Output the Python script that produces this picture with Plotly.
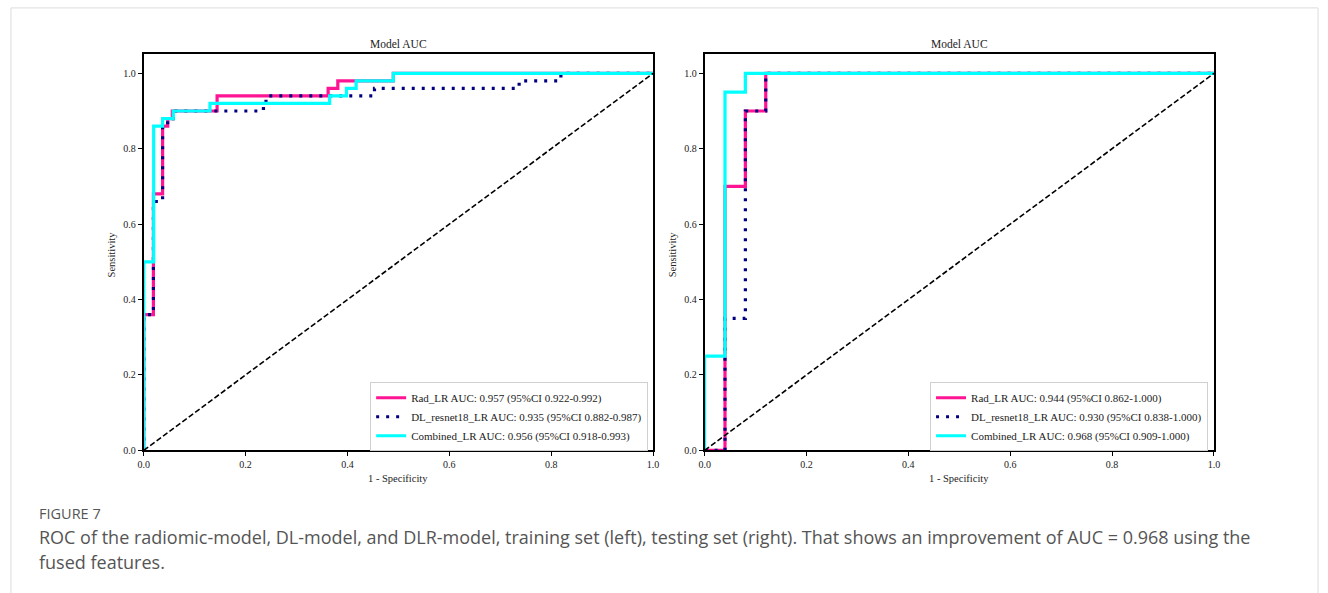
import plotly.graph_objects as go

# ---------------- data (ROC step vertices) ----------------
# Training set (left)
train_rad_fpr = [0, 0, 0.019, 0.019, 0.037, 0.037, 0.047, 0.047, 0.056, 0.056, 0.144, 0.144,
                 0.362, 0.362, 0.381, 0.381, 0.49, 0.49, 1.0]
train_rad_tpr = [0, 0.36, 0.36, 0.68, 0.68, 0.86, 0.86, 0.88, 0.88, 0.90, 0.90, 0.94,
                 0.94, 0.96, 0.96, 0.98, 0.98, 1.0, 1.0]
train_dl_fpr = [0, 0, 0.019, 0.019, 0.037, 0.037, 0.047, 0.047, 0.058, 0.058, 0.235, 0.235,
                0.24, 0.24, 0.453, 0.453, 0.737, 0.737, 0.819, 0.819, 1.0]
train_dl_tpr = [0, 0.36, 0.36, 0.66, 0.66, 0.86, 0.86, 0.88, 0.88, 0.90, 0.90, 0.92,
                0.92, 0.94, 0.94, 0.96, 0.96, 0.98, 0.98, 1.0, 1.0]
train_comb_fpr = [0, 0, 0.0195, 0.0195, 0.037, 0.037, 0.058, 0.058, 0.13, 0.13, 0.365, 0.365,
                  0.398, 0.398, 0.417, 0.417, 0.49, 0.49, 1.0]
train_comb_tpr = [0, 0.50, 0.50, 0.86, 0.86, 0.88, 0.88, 0.90, 0.90, 0.92, 0.92, 0.94,
                  0.94, 0.96, 0.96, 0.98, 0.98, 1.0, 1.0]

# Testing set (right)
test_rad_fpr = [0, 0.04, 0.04, 0.08, 0.08, 0.12, 0.12, 1.0]
test_rad_tpr = [0, 0, 0.70, 0.70, 0.90, 0.90, 1.0, 1.0]
test_dl_fpr = [0, 0.04, 0.04, 0.08, 0.08, 0.12, 0.12, 1.0]
test_dl_tpr = [0, 0, 0.35, 0.35, 0.90, 0.90, 1.0, 1.0]
test_comb_fpr = [0, 0, 0.04, 0.04, 0.08, 0.08, 1.0]
test_comb_tpr = [0, 0.25, 0.25, 0.95, 0.95, 1.0, 1.0]

train_labels = ["Rad_LR AUC: 0.957 (95%CI 0.922-0.992)",
                "DL_resnet18_LR AUC: 0.935 (95%CI 0.882-0.987)",
                "Combined_LR AUC: 0.956 (95%CI 0.918-0.993)"]
test_labels = ["Rad_LR AUC: 0.944 (95%CI 0.862-1.000)",
               "DL_resnet18_LR AUC: 0.930 (95%CI 0.838-1.000)",
               "Combined_LR AUC: 0.968 (95%CI 0.909-1.000)"]
diag = [0, 1]
tick_vals = [0, 0.2, 0.4, 0.6, 0.8, 1.0]

caption_head = "FIGURE 7"
caption_line1 = ("ROC of the radiomic-model, DL-model, and DLR-model, training set (left), testing set (right). "
                 "That shows an improvement of AUC = 0.968 using the")
caption_line2 = "fused features."

# ---------------- styling ----------------
W, H = 1328, 593
PINK, NAVY, CYAN = "#FF1493", "#000080", "#00FFFF"
SERIF = "Liberation Serif, Times New Roman, serif"
SANS = "Open Sans, Noto Sans, sans-serif"

def px_x(p):
    return p / W

def px_y(p):
    return 1 - p / H

fig = go.Figure()

def add_panel(xa, ya, legend, fprs, tprs, labels):
    styles = [dict(color=PINK, width=3.2),
              dict(color=NAVY, width=3.2, dash="3px,7px"),
              dict(color=CYAN, width=3.2)]
    for f, t, lab, st in zip(fprs, tprs, labels, styles):
        fig.add_trace(go.Scatter(x=f, y=t, mode="lines", name=lab, line=st,
                                 xaxis=xa, yaxis=ya, legend=legend))
    fig.add_trace(go.Scatter(x=diag, y=diag, mode="lines", showlegend=False,
                             line=dict(color="black", width=1.6, dash="5.5px,2.5px"),
                             xaxis=xa, yaxis=ya))

add_panel("x", "y", "legend",
          [train_rad_fpr, train_dl_fpr, train_comb_fpr],
          [train_rad_tpr, train_dl_tpr, train_comb_tpr], train_labels)
add_panel("x2", "y2", "legend2",
          [test_rad_fpr, test_dl_fpr, test_comb_fpr],
          [test_rad_tpr, test_dl_tpr, test_comb_tpr], test_labels)

axis_common = dict(showline=True, linewidth=2, linecolor="black", mirror=True,
                   ticks="outside", ticklen=4, tickwidth=1.3, tickcolor="black",
                   showgrid=False, zeroline=False, tickvals=tick_vals, tickformat=".1f",
                   tickfont=dict(family=SERIF, size=10, color="#222"))

y_dom = [px_y(455), px_y(55)]
leg_common = dict(xanchor="right", yanchor="middle",
                  bgcolor="white", bordercolor="#d0d0d0", borderwidth=1,
                  font=dict(family=SERIF, size=11, color="#222"),
                  tracegroupgap=0, itemwidth=30)
fig.update_layout(
    width=W, height=H,
    margin=dict(l=0, r=0, t=0, b=0),
    paper_bgcolor="white", plot_bgcolor="white",
    xaxis=dict(domain=[px_x(139), px_x(653)], range=[0, 1], anchor="y", **axis_common),
    yaxis=dict(domain=y_dom, range=[0, 1.05], anchor="x", **axis_common),
    xaxis2=dict(domain=[px_x(705), px_x(1219)], range=[0, 1], anchor="y2", **axis_common),
    yaxis2=dict(domain=y_dom, range=[0, 1.05], anchor="x2", **axis_common),
    legend=dict(x=px_x(648), y=px_y(421), **leg_common),
    legend2=dict(x=px_x(1213), y=px_y(421), **leg_common),
    showlegend=True,
)

def note(text, x, y, size, family=SERIF, color="#222", angle=0, xanchor="center"):
    return dict(text=text, x=px_x(x), y=px_y(y), xref="paper", yref="paper",
                xanchor=xanchor, yanchor="middle", showarrow=False, textangle=angle,
                font=dict(family=family, size=size, color=color))

annots = []
for cx in (396, 962):
    annots.append(note("Model AUC", cx, 44, 11.5))
    annots.append(note("1 - Specificity", cx, 483, 10.5))
for sx in (106, 672):
    annots.append(note("Sensitivity", sx, 257, 10.5, angle=-90))
annots.append(note(caption_head, 31, 519, 14.5, family=SANS, color="#555", xanchor="left"))
annots.append(note(caption_line1, 31, 542, 18, family=SANS, color="#555", xanchor="left"))
annots.append(note(caption_line2, 31, 568, 18, family=SANS, color="#555", xanchor="left"))
fig.update_layout(annotations=annots)

# page container border
fig.add_shape(type="rect", xref="paper", yref="paper",
              x0=px_x(5), x1=px_x(1324), y0=px_y(620), y1=px_y(8),
              line=dict(color="#dcdcdc", width=1), layer="below")

fig.write_html("out.html")
